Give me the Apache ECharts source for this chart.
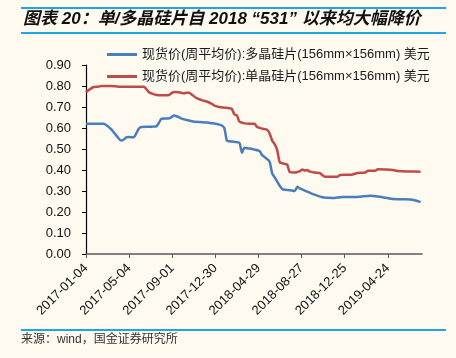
<!DOCTYPE html>
<html>
<head>
<meta charset="utf-8">
<script src="https://cdn.jsdelivr.net/npm/echarts@6/dist/echarts.min.js"></script>
<style>
html,body{margin:0;padding:0;background:#FEFAF0;}
#c{width:456px;height:358px;}
</style>
</head>
<body>
<div id="c"></div>
<script>
var baseDate = '2017-01-04';
var tickDays = [0, 120, 240, 360, 480, 600, 720, 840];
var yTicks = [0, 0.1, 0.2, 0.3, 0.4, 0.5, 0.6, 0.7, 0.8, 0.9];
var seriesNames = ['现货价(周平均价):多晶硅片(156mm×156mm) 美元', '现货价(周平均价):单晶硅片(156mm×156mm) 美元'];

var polyDates = ['2017-01-04','2017-01-25','2017-02-22','2017-03-08','2017-03-15','2017-03-22','2017-03-29','2017-04-05','2017-04-12','2017-04-19','2017-04-26','2017-05-03','2017-05-17','2017-05-24','2017-05-31','2017-06-07','2017-06-28','2017-07-12','2017-07-19','2017-07-26','2017-08-02','2017-08-16','2017-08-23','2017-08-30','2017-09-06','2017-09-13','2017-09-27','2017-10-11','2017-10-25','2017-11-15','2017-12-06','2017-12-27','2018-01-10','2018-01-17','2018-01-24','2018-01-31','2018-02-07','2018-02-21','2018-03-07','2018-03-14','2018-03-21','2018-04-04','2018-04-18','2018-05-02','2018-05-09','2018-05-16','2018-05-23','2018-05-30','2018-06-06','2018-06-13','2018-06-20','2018-06-27','2018-07-04','2018-07-11','2018-07-25','2018-08-08','2018-08-15','2018-08-22','2018-09-05','2018-09-26','2018-10-24','2018-11-21','2018-12-19','2019-01-16','2019-02-06','2019-03-06','2019-03-27','2019-04-17','2019-05-08','2019-06-05','2019-06-26','2019-07-10','2019-07-24'];
var polyValues = [0.62,0.62,0.62,0.605,0.595,0.58,0.565,0.55,0.54,0.545,0.555,0.557,0.556,0.575,0.597,0.605,0.606,0.607,0.608,0.625,0.644,0.645,0.646,0.652,0.66,0.656,0.645,0.638,0.632,0.628,0.626,0.621,0.616,0.612,0.6,0.54,0.537,0.534,0.529,0.482,0.506,0.502,0.497,0.49,0.471,0.462,0.452,0.44,0.384,0.365,0.345,0.325,0.31,0.306,0.304,0.30,0.32,0.312,0.302,0.286,0.27,0.267,0.272,0.272,0.273,0.277,0.274,0.268,0.262,0.261,0.26,0.255,0.247];

var monoDates = ['2017-01-04','2017-01-11','2017-01-25','2017-02-08','2017-02-15','2017-03-15','2017-04-05','2017-05-10','2017-06-14','2017-06-21','2017-06-28','2017-07-05','2017-07-19','2017-08-09','2017-08-23','2017-08-30','2017-09-06','2017-09-20','2017-10-04','2017-10-11','2017-10-18','2017-10-25','2017-11-08','2017-11-22','2017-12-06','2017-12-20','2017-12-27','2018-01-10','2018-01-24','2018-02-07','2018-02-14','2018-02-21','2018-02-28','2018-03-07','2018-03-21','2018-04-04','2018-04-18','2018-04-25','2018-05-09','2018-05-23','2018-05-30','2018-06-06','2018-06-13','2018-06-20','2018-06-27','2018-07-04','2018-07-11','2018-07-18','2018-07-25','2018-08-08','2018-08-22','2018-08-29','2018-09-05','2018-09-12','2018-09-19','2018-10-03','2018-10-17','2018-10-31','2018-11-21','2018-12-05','2018-12-12','2019-01-02','2019-01-16','2019-01-30','2019-02-20','2019-02-27','2019-03-20','2019-03-27','2019-04-17','2019-05-08','2019-05-22','2019-06-19','2019-07-24'];
var monoValues = [0.77,0.78,0.795,0.797,0.80,0.80,0.797,0.797,0.797,0.785,0.77,0.765,0.757,0.756,0.757,0.766,0.772,0.77,0.765,0.768,0.768,0.76,0.742,0.733,0.726,0.715,0.707,0.70,0.697,0.694,0.69,0.665,0.66,0.63,0.622,0.62,0.62,0.605,0.597,0.592,0.574,0.54,0.523,0.495,0.437,0.432,0.429,0.425,0.39,0.388,0.395,0.402,0.398,0.40,0.392,0.388,0.385,0.368,0.368,0.368,0.376,0.377,0.379,0.386,0.388,0.396,0.396,0.403,0.402,0.40,0.395,0.393,0.392];

var DAY = 86400000;
function toDay(s){ return Math.round((Date.parse(s + 'T00:00:00Z') - Date.parse(baseDate + 'T00:00:00Z')) / DAY); }
function fmtDay(v){
  var d = new Date(Date.parse(baseDate + 'T00:00:00Z') + v * DAY);
  var m = d.getUTCMonth() + 1, dd = d.getUTCDate();
  return d.getUTCFullYear() + '-' + (m < 10 ? '0' : '') + m + '-' + (dd < 10 ? '0' : '') + dd;
}
function pairs(dates, vals){ return dates.map(function(d, i){ return [toDay(d), vals[i]]; }); }

var FONT = "'Liberation Sans', Arial, 'Noto Sans CJK SC', sans-serif";
var chart = echarts.init(document.getElementById('c'), null, {renderer: 'canvas'});
chart.setOption({
  backgroundColor: '#FEFAF0',
  animation: false,
  textStyle: {fontFamily: FONT},
  grid: {left: 86, right: 34, top: 65, bottom: 104, containLabel: false},
  legend: {
    orient: 'vertical', left: 102, top: 43, itemWidth: 30, itemHeight: 3, itemGap: 9,
    icon: 'rect',
    textStyle: {fontSize: 13, color: '#1a1a1a', fontFamily: FONT},
    data: seriesNames
  },
  xAxis: {
    type: 'value', min: 0, max: 935,
    axisLine: {show: true, lineStyle: {color: '#595959', width: 1.5}},
    axisTick: {show: true, length: 4, lineStyle: {color: '#595959'}, customValues: tickDays},
    axisLabel: {rotate: 45, fontSize: 13, color: '#111', margin: 12, fontFamily: FONT, customValues: tickDays,
      formatter: function(v){ return fmtDay(v); }},
    splitLine: {show: false}
  },
  yAxis: {
    type: 'value', min: 0, max: 0.9, interval: 0.1,
    axisLine: {show: true, lineStyle: {color: '#000', width: 1.2}},
    axisTick: {show: true, length: 4, lineStyle: {color: '#000'}},
    axisLabel: {fontSize: 13, color: '#111', margin: 15, fontFamily: FONT,
      formatter: function(v){ return v.toFixed(2); }},
    splitLine: {show: false}
  },
  series: [
    {name: seriesNames[0], type: 'line', data: pairs(polyDates, polyValues), symbol: 'none', smooth: 0.2,
      lineStyle: {color: '#4A7EBB', width: 2.5}, itemStyle: {color: '#4A7EBB'}},
    {name: seriesNames[1], type: 'line', data: pairs(monoDates, monoValues), symbol: 'none', smooth: 0.2,
      lineStyle: {color: '#BE4B48', width: 2.5}, itemStyle: {color: '#BE4B48'}}
  ],
  graphic: [
    {type: 'rect', shape: {x: 21, y: 7, width: 425, height: 2}, style: {fill: '#1EA5E8'}},
    {type: 'rect', shape: {x: 21, y: 32, width: 425, height: 2}, style: {fill: '#1EA5E8'}},
    {type: 'text', left: 23, top: 11, style: {text: '图表 20：单/多晶硅片自 2018 “531” 以来均大幅降价',
      font: "italic bold 17px 'Liberation Sans', 'Noto Sans CJK SC', sans-serif", fill: '#111'}},
    {type: 'rect', shape: {x: 21, y: 329, width: 425, height: 2}, style: {fill: '#1EA5E8'}},
    {type: 'text', left: 21, top: 334, style: {text: '来源：wind，国金证券研究所',
      font: "12px 'Liberation Sans', 'Noto Sans CJK SC', sans-serif", fill: '#333'}}
  ]
});
</script>
</body>
</html>
